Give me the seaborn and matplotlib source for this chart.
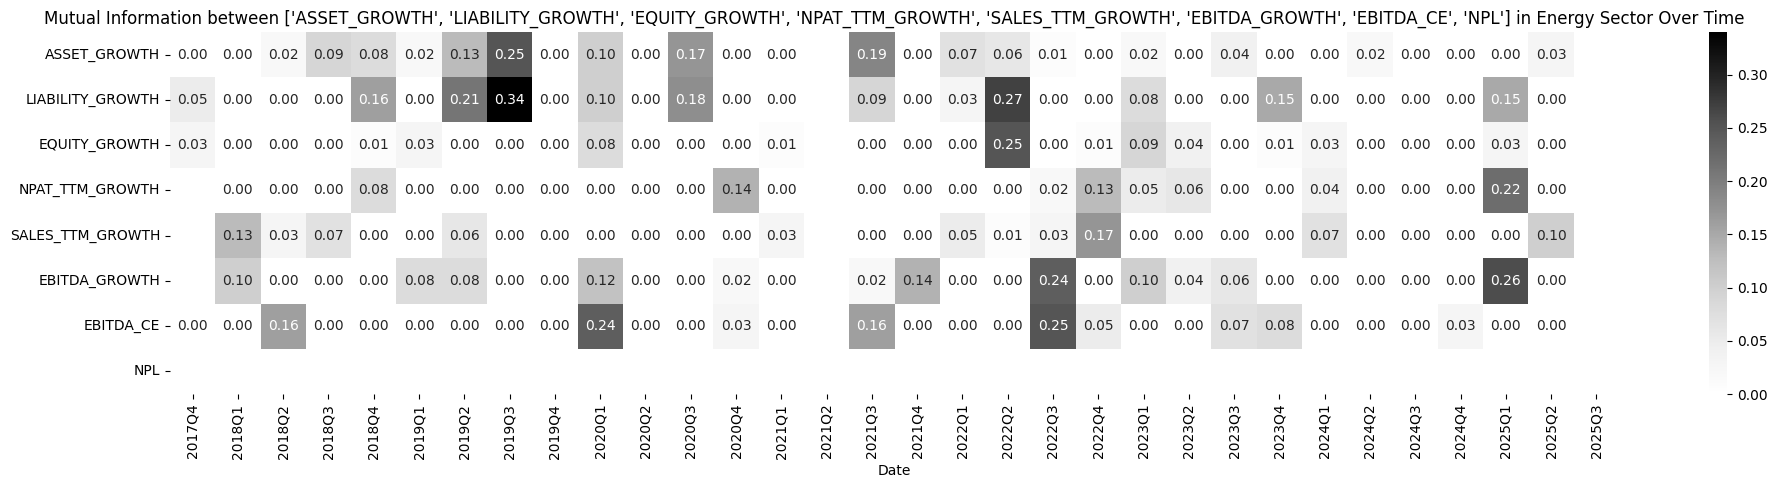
import numpy as np
import pandas as pd
import matplotlib
matplotlib.use("Agg")
import matplotlib.pyplot as plt
import seaborn as sns

# Признаки (строки) и кварталы (столбцы)
features = ['ASSET_GROWTH', 'LIABILITY_GROWTH', 'EQUITY_GROWTH', 'NPAT_TTM_GROWTH',
            'SALES_TTM_GROWTH', 'EBITDA_GROWTH', 'EBITDA_CE', 'NPL']

dates = ['2017Q4'] + [f'{y}Q{q}' for y in range(2018, 2025) for q in range(1, 5)] + \
        ['2025Q1', '2025Q2', '2025Q3']

nan = np.nan

asset_growth = [0.00, 0.00, 0.02, 0.09, 0.08, 0.02, 0.13, 0.25, 0.00, 0.10, 0.00, 0.17, 0.00, 0.00, nan,
                0.19, 0.00, 0.07, 0.06, 0.01, 0.00, 0.02, 0.00, 0.04, 0.00, 0.00, 0.02, 0.00, 0.00,
                0.00, 0.03, nan]
liability_growth = [0.05, 0.00, 0.00, 0.00, 0.16, 0.00, 0.21, 0.34, 0.00, 0.10, 0.00, 0.18, 0.00, 0.00, nan,
                    0.09, 0.00, 0.03, 0.27, 0.00, 0.00, 0.08, 0.00, 0.00, 0.15, 0.00, 0.00, 0.00, 0.00,
                    0.15, 0.00, nan]
equity_growth = [0.03, 0.00, 0.00, 0.00, 0.01, 0.03, 0.00, 0.00, 0.00, 0.08, 0.00, 0.00, 0.00, 0.01, nan,
                 0.00, 0.00, 0.00, 0.25, 0.00, 0.01, 0.09, 0.04, 0.00, 0.01, 0.03, 0.00, 0.00, 0.00,
                 0.03, 0.00, nan]
npat_ttm_growth = [nan, 0.00, 0.00, 0.00, 0.08, 0.00, 0.00, 0.00, 0.00, 0.00, 0.00, 0.00, 0.14, 0.00, nan,
                   0.00, 0.00, 0.00, 0.00, 0.02, 0.13, 0.05, 0.06, 0.00, 0.00, 0.04, 0.00, 0.00, 0.00,
                   0.22, 0.00, nan]
sales_ttm_growth = [nan, 0.13, 0.03, 0.07, 0.00, 0.00, 0.06, 0.00, 0.00, 0.00, 0.00, 0.00, 0.00, 0.03, nan,
                    0.00, 0.00, 0.05, 0.01, 0.03, 0.17, 0.00, 0.00, 0.00, 0.00, 0.07, 0.00, 0.00, 0.00,
                    0.00, 0.10, nan]
ebitda_growth = [nan, 0.10, 0.00, 0.00, 0.00, 0.08, 0.08, 0.00, 0.00, 0.12, 0.00, 0.00, 0.02, 0.00, nan,
                 0.02, 0.14, 0.00, 0.00, 0.24, 0.00, 0.10, 0.04, 0.06, 0.00, 0.00, 0.00, 0.00, 0.00,
                 0.26, 0.00, nan]
ebitda_ce = [0.00, 0.00, 0.16, 0.00, 0.00, 0.00, 0.00, 0.00, 0.00, 0.24, 0.00, 0.00, 0.03, 0.00, nan,
             0.16, 0.00, 0.00, 0.00, 0.25, 0.05, 0.00, 0.00, 0.07, 0.08, 0.00, 0.00, 0.00, 0.03,
             0.00, 0.00, nan]
npl = [nan] * len(dates)

rows = [asset_growth, liability_growth, equity_growth, npat_ttm_growth,
        sales_ttm_growth, ebitda_growth, ebitda_ce, npl]

df = pd.DataFrame(rows, index=features, columns=dates)
df.columns.name = 'Date'

W, H = 1777, 490
fig = plt.figure(figsize=(W / 100, H / 100), dpi=100)
# Положение осей в пикселях, как на исходной картинке
ax = fig.add_axes([170 / W, 1 - 394 / H, (1619 - 170) / W, (394 - 32) / H])
cax = fig.add_axes([1709 / W, 1 - 394 / H, 18 / W, (394 - 32) / H])

sns.heatmap(df, annot=True, fmt='.2f', cmap='Greys', ax=ax, cbar_ax=cax)
ax.set_title(f"Mutual Information between {features} in Energy Sector Over Time")
ax.set_xlabel('Date')
ax.set_ylabel('')
fig.savefig('out.png', dpi=100)
